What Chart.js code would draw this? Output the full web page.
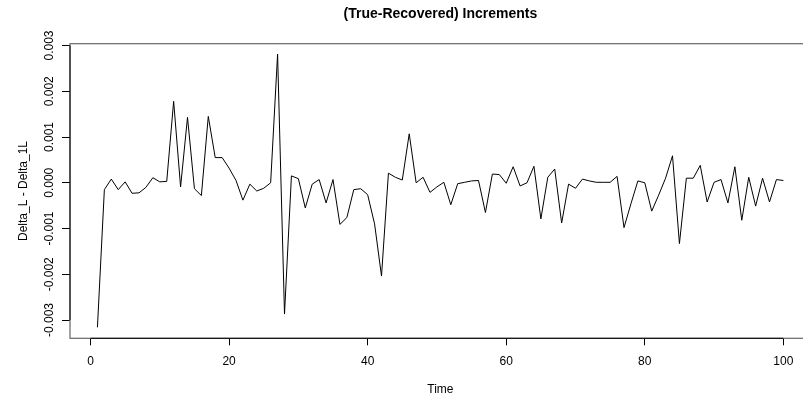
<!DOCTYPE html>
<html>
<head>
<meta charset="utf-8">
<title>(True-Recovered) Increments</title>
<script src="https://cdn.jsdelivr.net/npm/chart.js@4.4.0/dist/chart.umd.min.js"></script>
<style>
  html, body { margin: 0; padding: 0; background: #fff; overflow: hidden; }
  #wrap { width: 803px; height: 400px; overflow: hidden; position: relative; }
  #incChart { display: block; }
</style>
</head>
<body>
<div id="wrap"><canvas id="incChart" width="812" height="400"></canvas></div>
<script>
const time = [1, 2, 3, 4, 5, 6, 7, 8, 9, 10,
    11, 12, 13, 14, 15, 16, 17, 18, 19, 20,
    21, 22, 23, 24, 25, 26, 27, 28, 29, 30,
    31, 32, 33, 34, 35, 36, 37, 38, 39, 40,
    41, 42, 43, 44, 45, 46, 47, 48, 49, 50,
    51, 52, 53, 54, 55, 56, 57, 58, 59, 60,
    61, 62, 63, 64, 65, 66, 67, 68, 69, 70,
    71, 72, 73, 74, 75, 76, 77, 78, 79, 80,
    81, 82, 83, 84, 85, 86, 87, 88, 89, 90,
    91, 92, 93, 94, 95, 96, 97, 98, 99, 100];

// true minus recovered increments
const delta = [
    -0.00316, -0.00015, 0.00008, -0.00015, 0.00002, -0.00023, -0.00022, -0.00010, 0.00011, 0.00002,
    0.00003, 0.00178, -0.00009, 0.00143, -0.00013, -0.00028, 0.00145, 0.00055, 0.00055, 0.00032,
    0.00005, -0.00038, -0.00003, -0.00018, -0.00012, 0.00000, 0.00281, -0.00287, 0.00015, 0.00009,
    -0.00055, -0.00003, 0.00007, -0.00044, 0.00007, -0.00091, -0.00076, -0.00015, -0.00013, -0.00026,
    -0.00090, -0.00204, 0.00021, 0.00012, 0.00006, 0.00107, 0.00000, 0.00012, -0.00021, -0.00009,
    0.00001, -0.00048, -0.00002, 0.00001, 0.00004, 0.00005, -0.00065, 0.00019, 0.00018, -0.00001,
    0.00035, -0.00007, 0.00000, 0.00036, -0.00079, 0.00012, 0.00030, -0.00088, -0.00003, -0.00012,
    0.00008, 0.00004, 0.00001, 0.00001, 0.00001, 0.00014, -0.00098, -0.00046, 0.00004, 0.00000,
    -0.00062, -0.00027, 0.00010, 0.00059, -0.00133, 0.00010, 0.00010, 0.00038, -0.00042, 0.00001,
    0.00007, -0.00044, 0.00035, -0.00082, 0.00012, -0.00051, 0.00010, -0.00042, 0.00007, 0.00005
];

const xTicks = [0, 20, 40, 60, 80, 100];
const yTicks = [-0.003, -0.002, -0.001, 0, 0.001, 0.002, 0.003];

Chart.defaults.font.family = '"Liberation Sans", Arial, Helvetica, sans-serif';
Chart.defaults.color = '#000';

// R style frame: grey box plus black axis lines between first and last tick
const framePlugin = {
    id: 'frame',
    afterDatasetsDraw(chart) {
        const {ctx, chartArea: a, scales} = chart;
        ctx.save();
        ctx.strokeStyle = '#666';
        ctx.lineWidth = 1.2;
        ctx.strokeRect(a.left, a.top, a.right - a.left, a.bottom - a.top);
        ctx.strokeStyle = '#000';
        ctx.lineWidth = 1;
        ctx.beginPath();
        ctx.moveTo(scales.x.getPixelForValue(xTicks[0]), a.bottom);
        ctx.lineTo(scales.x.getPixelForValue(xTicks[xTicks.length - 1]), a.bottom);
        ctx.moveTo(a.left, scales.y.getPixelForValue(yTicks[0]));
        ctx.lineTo(a.left, scales.y.getPixelForValue(yTicks[yTicks.length - 1]));
        ctx.stroke();
        ctx.restore();
    }
};

const ctx = document.getElementById('incChart').getContext('2d');

const incChart = new Chart(ctx, {
    type: 'line',
    data: {
        datasets: [{
            label: 'True - Recovered',
            data: time.map((t, i) => ({x: t, y: delta[i]})),
            borderColor: '#000',
            borderWidth: 1,
            pointRadius: 0,
            tension: 0,
            fill: false
        }]
    },
    options: {
        responsive: false,
        animation: false,
        devicePixelRatio: 1,
        layout: { padding: { left: 0, right: 1.2, top: 0, bottom: 0 } },
        plugins: {
            legend: { display: false },
            tooltip: { enabled: false },
            title: {
                display: true,
                fullSize: false,
                text: '(True-Recovered) Increments',
                font: { size: 14, weight: 'bold' },
                color: '#000',
                padding: { top: 6, bottom: 20.9 }
            }
        },
        scales: {
            x: {
                type: 'linear',
                min: -2.96,
                max: 103.96,
                afterBuildTicks: s => { s.ticks = xTicks.map(v => ({value: v})); },
                afterFit: s => { s.height = 61.7; },
                ticks: { font: { size: 12 }, padding: 9, maxRotation: 0, autoSkip: false },
                grid: { drawOnChartArea: false, tickLength: 7, color: '#000' },
                border: { display: false },
                title: {
                    display: true,
                    text: 'Time',
                    font: { size: 12 },
                    padding: { top: 0, bottom: 2.7 }
                }
            },
            y: {
                type: 'linear',
                min: -0.0034,
                max: 0.00304,
                afterBuildTicks: s => { s.ticks = yTicks.map(v => ({value: v})); },
                afterFit: s => { s.width = 70; },
                ticks: {
                    font: { size: 12 },
                    minRotation: 90,
                    maxRotation: 90,
                    crossAlign: 'center',
                    padding: -4.5,
                    autoSkip: false,
                    callback: v => v.toFixed(3)
                },
                grid: { drawOnChartArea: false, tickLength: 8, color: '#000' },
                border: { display: false },
                title: {
                    display: true,
                    text: 'Delta_L - Delta_1L',
                    font: { size: 12 },
                    padding: { top: 16, bottom: 0 }
                }
            }
        }
    },
    plugins: [framePlugin]
});
</script>
</body>
</html>
